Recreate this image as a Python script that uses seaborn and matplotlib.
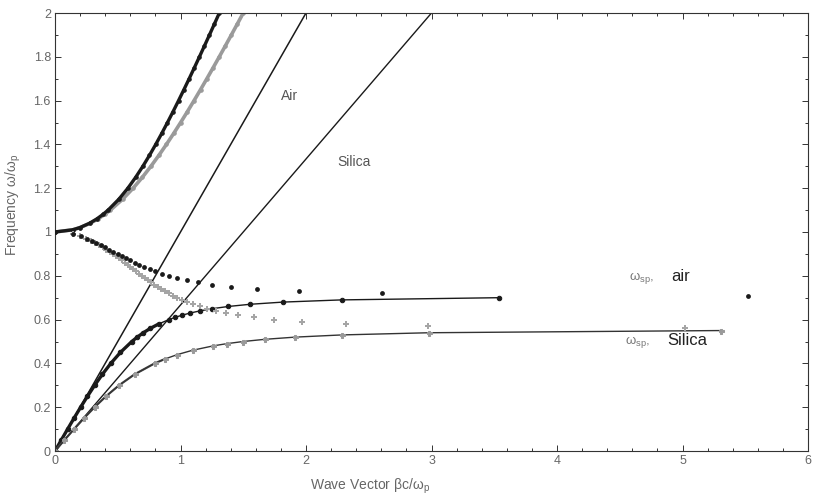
import matplotlib
matplotlib.use("Agg")
import matplotlib.pyplot as plt
from matplotlib.ticker import MultipleLocator
import numpy as np
import pandas as pd
import seaborn as sns

# Normalised frequency samples (omega / omega_p) and wave vectors (beta c / omega_p)
# Light lines
air_light_beta = [0.0, 2.0]
air_light_w = [0.0, 2.0]
silica_light_beta = [0.0, 3.0]
silica_light_w = [0.0, 2.0]

# Bound surface plasmon, metal / air
spp_air_w = [0.0, 0.05, 0.10, 0.15, 0.20, 0.25, 0.30, 0.35, 0.40, 0.45, 0.50, 0.52, 0.54,
             0.56, 0.58, 0.60, 0.61, 0.62, 0.63, 0.64, 0.65, 0.66, 0.67, 0.68, 0.69, 0.70]
spp_air_beta = [0.0, 0.0501, 0.1005, 0.1518, 0.2043, 0.2588, 0.3160, 0.3773, 0.4446, 0.5210,
                0.6124, 0.6555, 0.7040, 0.7599, 0.8260, 0.9071, 0.9557, 1.0117, 1.0774,
                1.1565, 1.2547, 1.3816, 1.5558, 1.8182, 2.2843, 3.5348]

# Bound surface plasmon, metal / silica
spp_si_w = [0.0, 0.05, 0.10, 0.15, 0.20, 0.25, 0.30, 0.35, 0.40, 0.42, 0.44, 0.46, 0.48,
            0.49, 0.50, 0.51, 0.52, 0.53, 0.54, 0.55]
spp_si_beta = [0.0, 0.0752, 0.1517, 0.2311, 0.3151, 0.4067, 0.5103, 0.6339, 0.7937, 0.8753,
               0.9733, 1.0963, 1.2602, 1.3670, 1.5000, 1.6732, 1.9138, 2.2846, 2.9810, 5.3040]

# Radiative branch above the plasma frequency
upper_w = [1.00, 1.01, 1.02, 1.04, 1.06, 1.08, 1.10, 1.15, 1.20, 1.25, 1.30, 1.35, 1.40,
           1.45, 1.50, 1.55, 1.60, 1.65, 1.70, 1.75, 1.80, 1.85, 1.90, 1.95, 2.00]
upper_air_beta = [0.0, 0.1404, 0.1972, 0.2755, 0.3337, 0.3816, 0.4230, 0.5092, 0.5806,
                  0.6431, 0.7000, 0.7528, 0.8027, 0.8504, 0.8964, 0.9410, 0.9845, 1.0271,
                  1.0690, 1.1102, 1.1508, 1.1910, 1.2308, 1.2702, 1.3093]
upper_si_beta = [0.0, 0.1412, 0.1993, 0.2810, 0.3433, 0.3956, 0.4415, 0.5394, 0.6224,
                 0.6964, 0.7642, 0.8277, 0.8879, 0.9456, 1.0013, 1.0553, 1.1079, 1.1595,
                 1.2101, 1.2599, 1.3090, 1.3575, 1.4054, 1.4529, 1.5000]

# Gap region: magnitude of the imaginary wave vector, metal / air
gap_air_w = [1.00, 0.99, 0.98, 0.97, 0.96, 0.95, 0.94, 0.93, 0.92, 0.91, 0.90, 0.89, 0.88,
             0.87, 0.86, 0.85, 0.84, 0.83, 0.82, 0.81, 0.80, 0.79, 0.78, 0.77, 0.76, 0.75,
             0.74, 0.73, 0.72, 0.71]
gap_air_beta = [0.0, 0.1425, 0.2032, 0.2511, 0.2927, 0.3306, 0.3661, 0.4001, 0.4332, 0.4658,
                0.4982, 0.5309, 0.5642, 0.5984, 0.6340, 0.6712, 0.7108, 0.7532, 0.7993,
                0.8501, 0.9071, 0.9722, 1.0483, 1.1398, 1.2538, 1.4031, 1.6131, 1.9450,
                2.6050, 5.5216]

# Gap region: metal / silica
gap_si_w = [0.99, 0.98, 0.97, 0.96, 0.95, 0.94, 0.93, 0.92, 0.91, 0.90, 0.89, 0.88, 0.87,
            0.86, 0.85, 0.84, 0.83, 0.82, 0.81, 0.80, 0.79, 0.78, 0.77, 0.76, 0.75, 0.74,
            0.73, 0.72, 0.71, 0.70, 0.69, 0.68, 0.67, 0.66, 0.65, 0.64, 0.63, 0.62, 0.61,
            0.60, 0.59, 0.58, 0.57, 0.56]
gap_si_beta = [0.1417, 0.2008, 0.2466, 0.2855, 0.3200, 0.3516, 0.3810, 0.4088, 0.4352,
               0.4606, 0.4851, 0.5091, 0.5325, 0.5556, 0.5785, 0.6012, 0.6239, 0.6466,
               0.6696, 0.6928, 0.7165, 0.7406, 0.7654, 0.7911, 0.8177, 0.8455, 0.8748,
               0.9057, 0.9387, 0.9742, 1.0126, 1.0547, 1.1013, 1.1536, 1.2130, 1.2817,
               1.3630, 1.4614, 1.5847, 1.7463, 1.9718, 2.3202, 2.9706, 5.0225]

x_ticks = [0, 1, 2, 3, 4, 5, 6]
y_ticks = [0, 0.2, 0.4, 0.6, 0.8, 1.0, 1.2, 1.4, 1.6, 1.8, 2.0]
y_tick_labels = ["0", "0.2", "0.4", "0.6", "0.8", "1", "1.2", "1.4", "1.6", "1.8", "2"]

sns.set_theme(style="ticks")
plt.rcParams["font.family"] = ["Liberation Sans", "DejaVu Sans"]

W, H = 813, 501
fig = plt.figure(figsize=(W / 100, H / 100), dpi=100)
ax = fig.add_axes([55 / W, 50 / H, 753 / W, 438 / H])

dark = "#1a1a1a"
grey = "#9a9a9a"

def curve(x, y, color, lw, marker, ms, mec=None, lcolor=None):
    df = pd.DataFrame({"beta": x, "w": y})
    sns.lineplot(data=df, x="beta", y="w", sort=False, estimator=None, ax=ax,
                 color=lcolor or color, linewidth=lw, marker=marker, markersize=ms,
                 markeredgecolor=mec or color, markerfacecolor=color, legend=False)

def dots(x, y, color, marker, s, lw=0.0):
    df = pd.DataFrame({"beta": x, "w": y})
    sns.scatterplot(data=df, x="beta", y="w", ax=ax, color=color, marker=marker,
                    s=s, linewidth=lw, edgecolor=color, legend=False, zorder=3)

# light lines
curve(air_light_beta, air_light_w, dark, 1.1, None, 0)
curve(silica_light_beta, silica_light_w, dark, 1.0, None, 0)

# radiative branches
curve(upper_si_beta, upper_w, grey, 2.6, "o", 2.5)
curve(upper_air_beta, upper_w, dark, 2.4, "o", 2.5)

# gap (imaginary) branches
dots(gap_si_beta, gap_si_w, "#a5a5a5", "P", 13)
dots(gap_air_beta, gap_air_w, dark, "o", 12)

# bound modes: heavier stroke where the samples crowd together
sns.lineplot(x=spp_air_beta[:15], y=spp_air_w[:15], ax=ax, sort=False,
             estimator=None, color=dark, linewidth=2.4, legend=False)
curve(spp_air_beta, spp_air_w, dark, 1.0, "o", 3.2)
sns.lineplot(x=spp_si_beta[:10], y=spp_si_w[:10], ax=ax, sort=False,
             estimator=None, color="#555555", linewidth=1.6, legend=False)
curve(spp_si_beta, spp_si_w, grey, 1.0, "P", 3.6, lcolor="#333333")

ax.set_xlim(0, 6)
ax.set_ylim(0, 2)
ax.set_xticks(x_ticks)
ax.set_xticklabels([str(t) for t in x_ticks])
ax.set_yticks(y_ticks)
ax.set_yticklabels(y_tick_labels)
ax.xaxis.set_minor_locator(MultipleLocator(0.2))
ax.yaxis.set_minor_locator(MultipleLocator(0.1))
ax.tick_params(which="both", direction="in", top=True, right=True, colors="#333333",
               labelcolor="#666666", labelsize=9, width=0.7)
ax.tick_params(which="major", length=4, pad=3)
ax.tick_params(which="minor", length=2.2)
for sp in ax.spines.values():
    sp.set_linewidth(0.8)
    sp.set_color("#333333")
ax.set_xlabel("")
ax.set_ylabel("")

fig.text(370 / W, 1 - 486 / H, "Wave Vector βc/ω$_{\\mathregular{p}}$", ha="center",
         va="center", fontsize=10, color="#666666")
fig.text(13 / W, 1 - 205 / H, "Frequency ω/ω$_{\\mathregular{p}}$", ha="center",
         va="center", rotation=90, fontsize=10, color="#666666")

ax.text(1.80, 1.62, "Air", fontsize=10, color="#555555", va="center")
ax.text(2.25, 1.32, "Silica", fontsize=10, color="#555555", va="center")
ax.text(4.57, 0.79, "ω$_{\\mathregular{sp}}$,", fontsize=9.5, color="#777777", va="center")
ax.text(4.91, 0.795, "air", fontsize=12, color="#222222", va="center")
ax.text(4.54, 0.50, "ω$_{\\mathregular{sp}}$,", fontsize=9.5, color="#777777", va="center")
ax.text(4.88, 0.505, "Silica", fontsize=12, color="#222222", va="center")

fig.savefig("out.png", dpi=100)
